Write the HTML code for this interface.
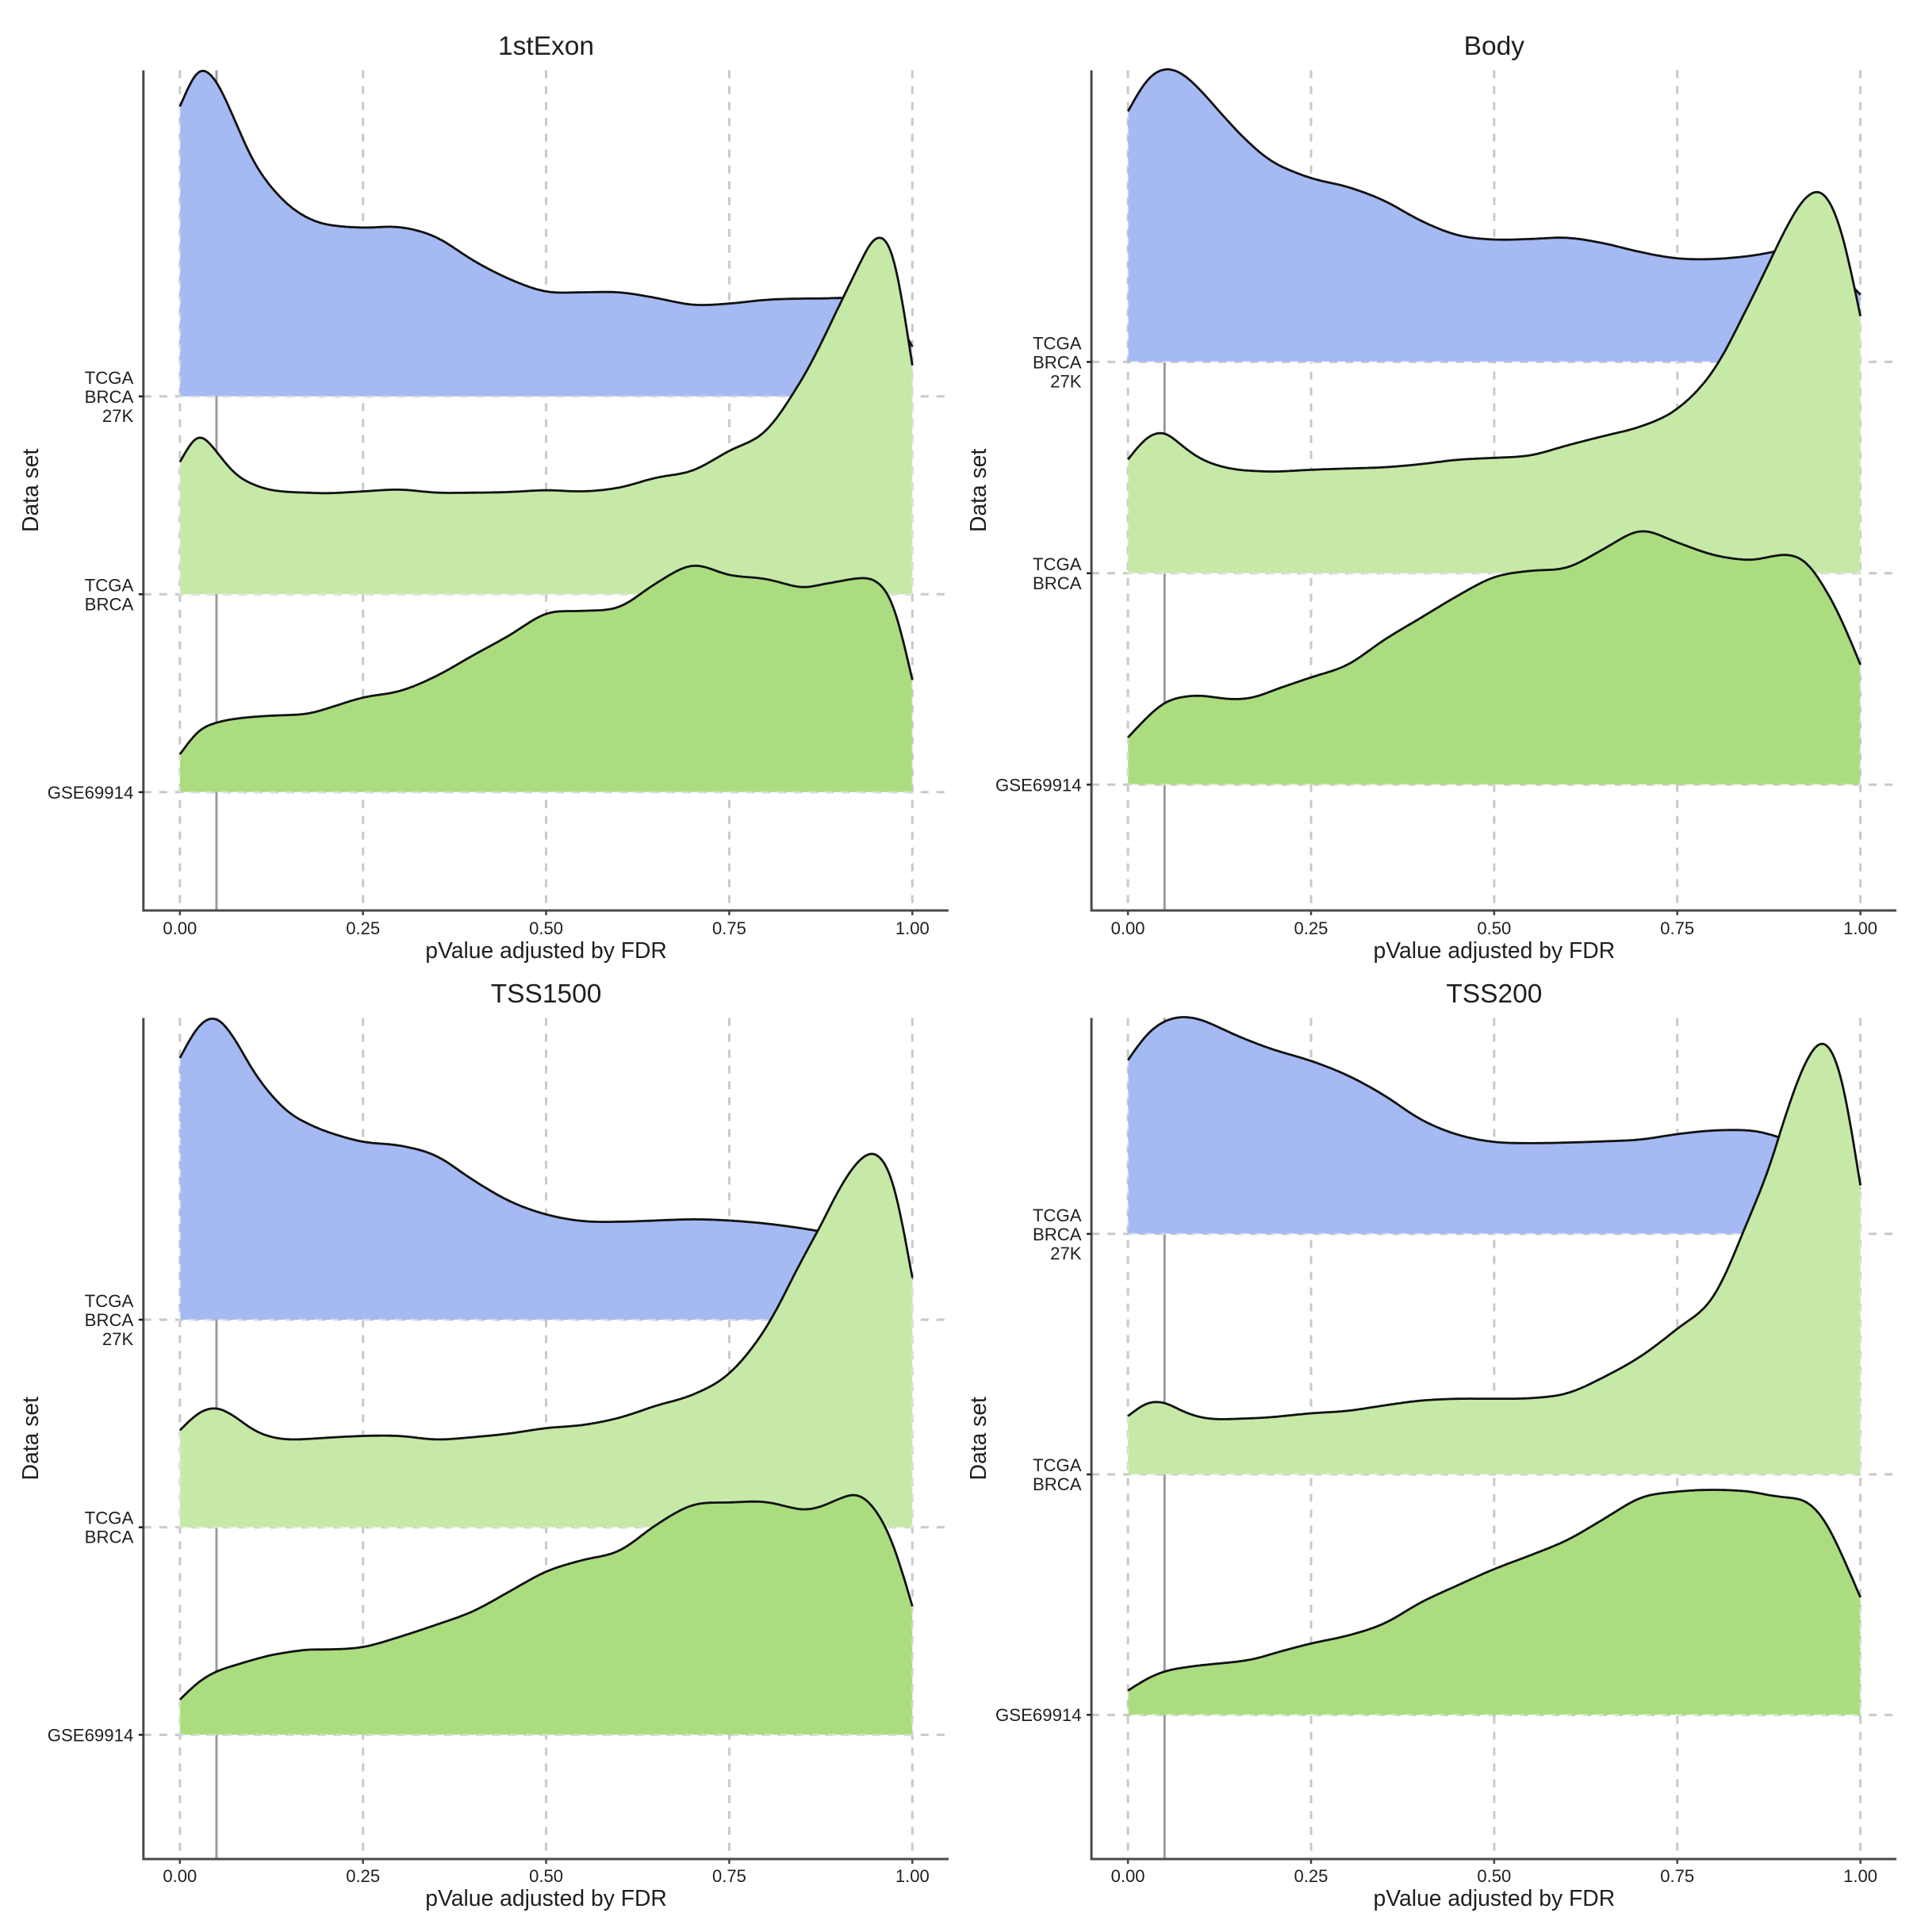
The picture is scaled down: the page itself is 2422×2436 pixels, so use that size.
<!DOCTYPE html>
<html lang="en">
<head>
<meta charset="utf-8">
<title>pValue density ridges</title>
<style>
html,body{margin:0;padding:0;background:#fff;}
svg{display:block;}
text{font-family:"Liberation Sans",Arial,sans-serif;fill:#1f1f1f;}
</style>
</head>
<body>
<svg id="chart" xmlns="http://www.w3.org/2000/svg" width="2422" height="2436" viewBox="0 0 2422 2436"></svg>
<script>
const pGrid = [0,.025,.05,.075,.1,.125,.15,.175,.2,.25,.3,.35,.4,.45,.5,.55,.6,.65,.7,.75,.8,.85,.875,.9,.925,.95,.975,1];
const xTickValues = [0,.25,.5,.75,1];
const xTickLabels = ["0.00","0.25","0.50","0.75","1.00"];
const cutoffP = 0.05;
const datasetLabels = [["GSE69914"],["TCGA","BRCA"],["TCGA","BRCA","27K"]];
const panelTitles = ["1stExon","Body","TSS1500","TSS200"];

const exon27k = [461,523,503,440,375,333,303,284,274,269,270,254,217,187,167,166,166,157,146,148,154,156,156,157,156,150,130,79];
const exonBrca = [210,256,227,192,175,166,163,162,161,164,167,162,162,163,166,164,170,186,197,229,260,344,399,460,519,572,542,363];
const exonGse = [60,98,111,117,120,122,123,125,133,151,161,185,218,250,285,289,295,333,362,346,340,326,331,336,341,338,298,178];

const body27k = [399,449,468,459,432,399,367,339,317,293,279,257,225,202,195,196,198,189,175,165,164,169,174,179,175,162,137,107];
const bodyBrca = [181,216,225,202,182,171,165,163,162,165,167,169,174,181,184,188,204,219,234,262,324,434,494,554,600,608,544,409];
const bodyGse = [75,106,131,140,142,138,136,140,151,171,191,231,266,301,331,341,346,376,405,386,366,358,363,367,356,316,261,191];

const tss1500k27 = [432,486,500,464,411,371,341,324,311,294,288,271,231,196,174,163,162,164,166,164,159,151,146,142,136,126,106,66];
const tss1500Brca = [160,189,198,183,161,149,145,146,148,151,151,145,149,155,164,169,181,201,219,254,329,444,499,559,604,620,569,411];
const tss1500Gse = [58,87,105,115,124,132,137,141,141,145,162,182,204,237,270,289,304,347,380,384,385,372,377,390,398,372,312,212];

const tss200k27 = [287,329,352,359,354,341,327,315,304,286,262,229,189,164,152,150,151,153,156,165,171,171,165,155,140,125,104,74];
const tss200Brca = [96,118,119,104,94,91,92,93,95,101,105,114,122,125,125,126,134,161,195,241,294,430,505,602,682,718,656,476];
const tss200Gse = [40,59,72,78,82,85,88,93,102,118,131,151,186,214,241,264,289,324,359,369,372,369,363,359,354,324,264,194];

const panelSeries = [
  [exonGse, exonBrca, exon27k],
  [bodyGse, bodyBrca, body27k],
  [tss1500Gse, tss1500Brca, tss1500k27],
  [tss200Gse, tss200Brca, tss200k27]
];
const rowFills = ["#abdd80","#c6e9a8","#a5b9f3"];
const rowNames = ["gse69914","tcga-brca","tcga-brca-27k"];
const frames = [
  {axisX:180.8,x0:226.8,x1:1150.3,end:1196,top:88.6,bottom:1148,base:998.8,step:249.5,dens:.7908,titleY:69,tickY:1178,xTitleY:1208},
  {axisX:1376.1,x0:1422.1,x1:2345.6,end:2391,top:88.6,bottom:1148,base:989.3,step:266.5,dens:.7908,titleY:69,tickY:1178,xTitleY:1208},
  {axisX:180.8,x0:226.8,x1:1150.3,end:1196,top:1283.5,bottom:2344,base:2187.4,step:261.7,dens:.7628,titleY:1264,tickY:2373,xTitleY:2403},
  {axisX:1376.1,x0:1422.1,x1:2345.6,end:2391,top:1283.5,bottom:2344,base:2162.2,step:303.2,dens:.7628,titleY:1264,tickY:2373,xTitleY:2403}
];

const SVG_NS = "http://www.w3.org/2000/svg";
const root = document.getElementById("chart");

function mk(parent, tag, props, content) {
  const el = document.createElementNS(SVG_NS, tag);
  for (const k in props) el.setAttribute(k, props[k]);
  if (content !== undefined) el.textContent = content;
  parent.appendChild(el);
  return el;
}

/* Cubic Hermite through the read values, evaluated densely, then a light
   kernel smooth so the outline looks like a continuous density estimate. */
function densityCurve(ps, vals) {
  const n = ps.length;
  const m = ps.map((_, i) => {
    if (i === 0) return (vals[1] - vals[0]) / (ps[1] - ps[0]);
    if (i === n - 1) return (vals[n - 1] - vals[n - 2]) / (ps[n - 1] - ps[n - 2]);
    return (vals[i + 1] - vals[i - 1]) / (ps[i + 1] - ps[i - 1]);
  });
  const evalAt = p => {
    if (p <= ps[0]) return vals[0] + m[0] * (p - ps[0]);
    if (p >= ps[n - 1]) return vals[n - 1] + m[n - 1] * (p - ps[n - 1]);
    let i = 0;
    while (p > ps[i + 1]) i++;
    const h = ps[i + 1] - ps[i], t = (p - ps[i]) / h, t2 = t * t, t3 = t2 * t;
    return (2*t3 - 3*t2 + 1) * vals[i] + (t3 - 2*t2 + t) * h * m[i] +
           (-2*t3 + 3*t2) * vals[i + 1] + (t3 - t2) * h * m[i + 1];
  };
  const sigma = 0.009, dp = 0.0025, span = 3;
  const out = [];
  for (let k = 0; k <= 400; k++) {
    const p = k * dp;
    let sum = 0, wt = 0;
    for (let j = -span * 4; j <= span * 4; j++) {
      const o = j * sigma / 4;
      const w = Math.exp(-0.5 * (o / sigma) * (o / sigma));
      sum += w * evalAt(p + o);
      wt += w;
    }
    out.push([p, sum / wt]);
  }
  return out;
}

frames.forEach((f, pi) => {
  const xScale = p => f.x0 + (f.x1 - f.x0) * p;
  const rowY = r => f.base - r * f.step;
  const densY = (r, v) => rowY(r) - v * f.dens;

  const g = mk(root, "g", {});
  
  

  xTickValues.forEach((t, i) => {
    const line = mk(g, "line", {x1:xScale(t),x2:xScale(t),y1:f.top,y2:f.bottom,stroke:"#c9c9c9","stroke-width":3,"stroke-dasharray":"10 10"});
    
    
  });
  datasetLabels.forEach((_, r) => {
    const line = mk(g, "line", {x1:f.axisX,x2:f.end,y1:rowY(r),y2:rowY(r),stroke:"#c9c9c9","stroke-width":3,"stroke-dasharray":"10 10"});
    
    
  });

  const cutoff = mk(g, "line", {x1:xScale(cutoffP),x2:xScale(cutoffP),y1:f.top,y2:f.bottom,stroke:"#9b9b9b","stroke-width":3});
  
  

  for (let r = datasetLabels.length - 1; r >= 0; r--) {
    const vals = panelSeries[pi][r];
    const pts = densityCurve(pGrid, vals).map(q => [xScale(q[0]), densY(r, q[1])]);
    const top = "M" + pts.map(q => q[0].toFixed(1) + " " + q[1].toFixed(1)).join("L");
    const last = pts[pts.length - 1], first = pts[0];
    const area = mk(g, "path", {d: top + "L" + last[0] + " " + rowY(r) + "L" + first[0] + " " + rowY(r) + "Z", fill: rowFills[r]});
    
    
    const edge = mk(g, "path", {d: "M" + first[0] + " " + first[1] + "L" + first[0] + " " + rowY(r) + "L" + last[0] + " " + rowY(r) + "L" + last[0] + " " + last[1], fill:"none", stroke:"#ececec","stroke-opacity":.55,"stroke-width":2.4,"stroke-dasharray":"10 10"});
    
    
    const curve = mk(g, "path", {d: top, fill:"none", stroke:"#111", "stroke-width":2.8, "stroke-linejoin":"round"});
    
    
  }

  const yAxis = mk(g, "line", {x1:f.axisX,x2:f.axisX,y1:f.top,y2:f.bottom+1.5,stroke:"#4a4a4a","stroke-width":3});
  
  
  const xAxis = mk(g, "line", {x1:f.axisX,x2:f.end,y1:f.bottom,y2:f.bottom,stroke:"#4a4a4a","stroke-width":3});
  
  

  xTickValues.forEach((t, i) => {
    const tick = mk(g, "line", {x1:xScale(t),x2:xScale(t),y1:f.bottom,y2:f.bottom+6,stroke:"#444","stroke-width":2.5});
    
    
    const lab = mk(g, "text", {x:xScale(t),y:f.tickY,"text-anchor":"middle","font-size":22}, xTickLabels[i]);
    
    
  });

  datasetLabels.forEach((lines, r) => {
    const tick = mk(g, "line", {x1:f.axisX-6,x2:f.axisX,y1:rowY(r),y2:rowY(r),stroke:"#222","stroke-width":2.5});
    
    
    const lab = mk(g, "text", {"text-anchor":"end","font-size":22.2});
    
    
    const lh = 24;
    lines.forEach((s, k) => {
      const yy = rowY(r) + 8 + (k - (lines.length - 1) / 2) * lh;
      mk(lab, "tspan", {x:f.axisX-12.5,y:yy}, s);
    });
  });

  const cx = (f.x0 + f.x1) / 2;
  const title = mk(g, "text", {x:cx,y:f.titleY,"text-anchor":"middle","font-size":33.5}, panelTitles[pi]);
  
  
  const xTitle = mk(g, "text", {x:cx,y:f.xTitleY,"text-anchor":"middle","font-size":28.3}, "pValue adjusted by FDR");
  
  
  const yc = (f.top + f.bottom) / 2;
  const yx = f.axisX - 133;
  const yTitle = mk(g, "text", {x:yx,y:yc,"text-anchor":"middle","font-size":28.3,transform:"rotate(-90 " + yx + " " + yc + ")"}, "Data set");
  
  
});
</script>
</body>
</html>
